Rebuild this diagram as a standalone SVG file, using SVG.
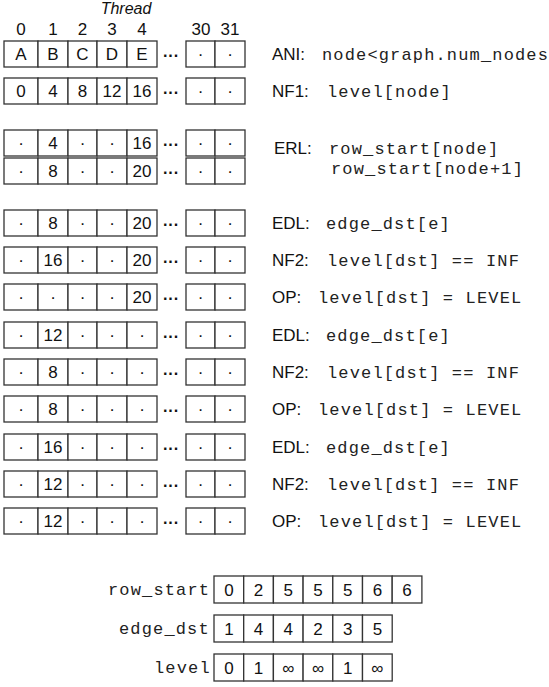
<svg xmlns="http://www.w3.org/2000/svg" xmlns:xlink="http://www.w3.org/1999/xlink" width="549" height="687" viewBox="0 0 549 687">
<style>
.c{fill:#fff;stroke:#333;stroke-width:1.3}
.v{font-family:"Liberation Sans",Arial,sans-serif;font-size:17px;text-anchor:middle;fill:#111}
.e{font-family:"Liberation Sans",Arial,sans-serif;font-size:16px;font-weight:bold;text-anchor:middle;fill:#111}
.s{font-family:"Liberation Sans",Arial,sans-serif;font-size:17px;fill:#111}
.m{font-family:"Liberation Mono","Courier New",monospace;font-size:17px;letter-spacing:1.15px;fill:#222}
.h{font-family:"Liberation Sans",Arial,sans-serif;font-size:16px;font-style:italic;text-anchor:middle;fill:#111}
</style>
<defs>
<g id="grid">
<rect class="c" x="4" y="0" width="34" height="26"/>
<rect class="c" x="38" y="0" width="30" height="26"/>
<rect class="c" x="68" y="0" width="29" height="26"/>
<rect class="c" x="97" y="0" width="30" height="26"/>
<rect class="c" x="127" y="0" width="30" height="26"/>
<rect class="c" x="186" y="0" width="29" height="26"/>
<rect class="c" x="215" y="0" width="30" height="26"/>
<text class="e" x="171" y="20">···</text>
<text class="v" x="200.5" y="19">·</text>
<text class="v" x="230" y="19">·</text>
</g>
</defs>
<g id="header">
<text class="h" x="126" y="14">Thread</text>
<text class="v" x="21" y="35">0</text>
<text class="v" x="53" y="35">1</text>
<text class="v" x="82.5" y="35">2</text>
<text class="v" x="112" y="35">3</text>
<text class="v" x="142" y="35">4</text>
<text class="v" x="201" y="35">30</text>
<text class="v" x="230" y="35">31</text>
</g>
<g id="row-ani" transform="translate(0,41)">
<use xlink:href="#grid"/>
<text class="v" x="21" y="19">A</text><text class="v" x="53" y="19">B</text><text class="v" x="82.5" y="19">C</text><text class="v" x="112" y="19">D</text><text class="v" x="142" y="19">E</text>
<text class="s" x="272" y="19">ANI:<tspan class="m" x="322">node&lt;graph.num_nodes</tspan></text>
</g>
<g id="row-nf1" transform="translate(0,78)">
<use xlink:href="#grid"/>
<text class="v" x="21" y="19">0</text><text class="v" x="53" y="19">4</text><text class="v" x="82.5" y="19">8</text><text class="v" x="112" y="19">12</text><text class="v" x="142" y="19">16</text>
<text class="s" x="272" y="19">NF1:<tspan class="m" x="327">level[node]</tspan></text>
</g>
<g id="row-erl" transform="translate(0,130)">
<use xlink:href="#grid"/>
<use xlink:href="#grid" y="28"/>
<text class="v" x="21" y="19">·</text><text class="v" x="53" y="19">4</text><text class="v" x="82.5" y="19">·</text><text class="v" x="112" y="19">·</text><text class="v" x="142" y="19">16</text>
<text class="v" x="21" y="47">·</text><text class="v" x="53" y="47">8</text><text class="v" x="82.5" y="47">·</text><text class="v" x="112" y="47">·</text><text class="v" x="142" y="47">20</text>
<text class="s" x="274" y="24">ERL:<tspan class="m" x="329">row_start[node]</tspan></text>
<text class="m" x="331" y="44">row_start[node+1]</text>
</g>
<g id="row-edl1" transform="translate(0,210)">
<use xlink:href="#grid"/>
<text class="v" x="21" y="19">·</text><text class="v" x="53" y="19">8</text><text class="v" x="82.5" y="19">·</text><text class="v" x="112" y="19">·</text><text class="v" x="142" y="19">20</text>
<text class="s" x="272" y="19">EDL:<tspan class="m" x="326">edge_dst[e]</tspan></text>
</g>
<g id="row-nf2-1" transform="translate(0,247)">
<use xlink:href="#grid"/>
<text class="v" x="21" y="19">·</text><text class="v" x="53" y="19">16</text><text class="v" x="82.5" y="19">·</text><text class="v" x="112" y="19">·</text><text class="v" x="142" y="19">20</text>
<text class="s" x="272" y="19">NF2:<tspan class="m" x="327">level[dst] == INF</tspan></text>
</g>
<g id="row-op1" transform="translate(0,284)">
<use xlink:href="#grid"/>
<text class="v" x="21" y="19">·</text><text class="v" x="53" y="19">·</text><text class="v" x="82.5" y="19">·</text><text class="v" x="112" y="19">·</text><text class="v" x="142" y="19">20</text>
<text class="s" x="272" y="19">OP:<tspan class="m" x="318">level[dst] = LEVEL</tspan></text>
</g>
<g id="row-edl2" transform="translate(0,322)">
<use xlink:href="#grid"/>
<text class="v" x="21" y="19">·</text><text class="v" x="53" y="19">12</text><text class="v" x="82.5" y="19">·</text><text class="v" x="112" y="19">·</text><text class="v" x="142" y="19">·</text>
<text class="s" x="272" y="19">EDL:<tspan class="m" x="326">edge_dst[e]</tspan></text>
</g>
<g id="row-nf2-2" transform="translate(0,359)">
<use xlink:href="#grid"/>
<text class="v" x="21" y="19">·</text><text class="v" x="53" y="19">8</text><text class="v" x="82.5" y="19">·</text><text class="v" x="112" y="19">·</text><text class="v" x="142" y="19">·</text>
<text class="s" x="272" y="19">NF2:<tspan class="m" x="327">level[dst] == INF</tspan></text>
</g>
<g id="row-op2" transform="translate(0,396)">
<use xlink:href="#grid"/>
<text class="v" x="21" y="19">·</text><text class="v" x="53" y="19">8</text><text class="v" x="82.5" y="19">·</text><text class="v" x="112" y="19">·</text><text class="v" x="142" y="19">·</text>
<text class="s" x="272" y="19">OP:<tspan class="m" x="318">level[dst] = LEVEL</tspan></text>
</g>
<g id="row-edl3" transform="translate(0,434)">
<use xlink:href="#grid"/>
<text class="v" x="21" y="19">·</text><text class="v" x="53" y="19">16</text><text class="v" x="82.5" y="19">·</text><text class="v" x="112" y="19">·</text><text class="v" x="142" y="19">·</text>
<text class="s" x="272" y="19">EDL:<tspan class="m" x="326">edge_dst[e]</tspan></text>
</g>
<g id="row-nf2-3" transform="translate(0,471)">
<use xlink:href="#grid"/>
<text class="v" x="21" y="19">·</text><text class="v" x="53" y="19">12</text><text class="v" x="82.5" y="19">·</text><text class="v" x="112" y="19">·</text><text class="v" x="142" y="19">·</text>
<text class="s" x="272" y="19">NF2:<tspan class="m" x="327">level[dst] == INF</tspan></text>
</g>
<g id="row-op3" transform="translate(0,508)">
<use xlink:href="#grid"/>
<text class="v" x="21" y="19">·</text><text class="v" x="53" y="19">12</text><text class="v" x="82.5" y="19">·</text><text class="v" x="112" y="19">·</text><text class="v" x="142" y="19">·</text>
<text class="s" x="272" y="19">OP:<tspan class="m" x="318">level[dst] = LEVEL</tspan></text>
</g>
<g id="arr-row_start" transform="translate(0,576)">
<text class="m" x="108" y="19">row_start</text>
<rect class="c" x="214" y="0" width="29.7" height="27"/><rect class="c" x="243.7" y="0" width="29.7" height="27"/><rect class="c" x="273.4" y="0" width="29.7" height="27"/><rect class="c" x="303.1" y="0" width="29.7" height="27"/><rect class="c" x="332.8" y="0" width="29.7" height="27"/><rect class="c" x="362.5" y="0" width="29.7" height="27"/><rect class="c" x="392.2" y="0" width="29.7" height="27"/>
<text class="v" x="228.9" y="19.5">0</text><text class="v" x="258.6" y="19.5">2</text><text class="v" x="288.3" y="19.5">5</text><text class="v" x="318" y="19.5">5</text><text class="v" x="347.7" y="19.5">5</text><text class="v" x="377.4" y="19.5">6</text><text class="v" x="407.1" y="19.5">6</text>
</g>
<g id="arr-edge_dst" transform="translate(0,615)">
<text class="m" x="119" y="19">edge_dst</text>
<rect class="c" x="214" y="0" width="29.7" height="27"/><rect class="c" x="243.7" y="0" width="29.7" height="27"/><rect class="c" x="273.4" y="0" width="29.7" height="27"/><rect class="c" x="303.1" y="0" width="29.7" height="27"/><rect class="c" x="332.8" y="0" width="29.7" height="27"/><rect class="c" x="362.5" y="0" width="29.7" height="27"/>
<text class="v" x="228.9" y="19.5">1</text><text class="v" x="258.6" y="19.5">4</text><text class="v" x="288.3" y="19.5">4</text><text class="v" x="318" y="19.5">2</text><text class="v" x="347.7" y="19.5">3</text><text class="v" x="377.4" y="19.5">5</text>
</g>
<g id="arr-level" transform="translate(0,654)">
<text class="m" x="154" y="19">level</text>
<rect class="c" x="214" y="0" width="29.7" height="27"/><rect class="c" x="243.7" y="0" width="29.7" height="27"/><rect class="c" x="273.4" y="0" width="29.7" height="27"/><rect class="c" x="303.1" y="0" width="29.7" height="27"/><rect class="c" x="332.8" y="0" width="29.7" height="27"/><rect class="c" x="362.5" y="0" width="29.7" height="27"/>
<text class="v" x="228.9" y="19.5">0</text><text class="v" x="258.6" y="19.5">1</text><text class="v" x="288.3" y="19.5">∞</text><text class="v" x="318" y="19.5">∞</text><text class="v" x="347.7" y="19.5">1</text><text class="v" x="377.4" y="19.5">∞</text>
</g>
<g id="connectors"/>
</svg>
